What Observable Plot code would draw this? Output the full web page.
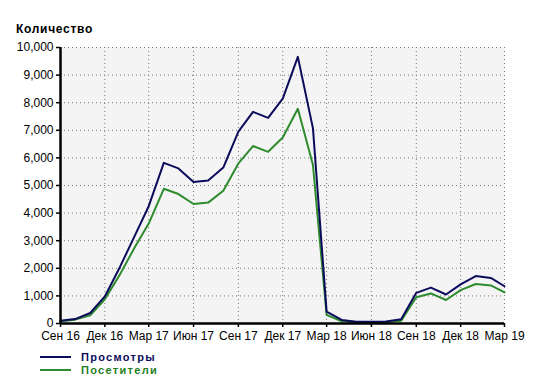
<!DOCTYPE html>
<html>
<head>
<meta charset="utf-8">
<script src="https://cdn.jsdelivr.net/npm/d3@7"></script>
<script src="https://cdn.jsdelivr.net/npm/@observablehq/plot@0.6"></script>
<style>
  body { margin: 0; background: #fff; font-family: "Liberation Sans", Arial, sans-serif; }
  #wrap { position: relative; width: 540px; height: 385px; overflow: hidden; }
  #title { position: absolute; left: 16px; top: 21px; font-weight: bold; font-size: 12px; letter-spacing: 0.7px; color: #000; line-height: 16px; }
  #chart { position: absolute; left: 0; top: 0; }
  .leg { position: absolute; left: 40px; font-weight: bold; font-size: 11px; letter-spacing: 1.3px; line-height: 12px; height: 12px; display: flex; align-items: center; }
  .leg span.sw { display: inline-block; width: 31px; height: 2px; margin-right: 10px; }
</style>
</head>
<body>
<div id="wrap">
  <div id="chart"></div>
  <div id="title">Количество</div>
  <div class="leg" style="top:351px;color:#0b0b5c"><span class="sw" style="background:#0b0b5c"></span>Просмотры</div>
  <div class="leg" style="top:364px;color:#1f7f1f"><span class="sw" style="background:#2e8b2e"></span>Посетители</div>
</div>
<script>
const months = ["2016-09","2016-10","2016-11","2016-12","2017-01","2017-02","2017-03","2017-04","2017-05","2017-06","2017-07","2017-08","2017-09","2017-10","2017-11","2017-12","2018-01","2018-02","2018-03","2018-04","2018-05","2018-06","2018-07","2018-08","2018-09","2018-10","2018-11","2018-12","2019-01","2019-02","2019-03"];
const views =    [100,160,380,980,2050,3200,4250,5820,5620,5130,5180,5650,6950,7670,7450,8150,9660,7070,430,130,60,60,70,150,1110,1300,1050,1420,1720,1650,1350];
const visitors = [80,140,300,880,1780,2780,3620,4880,4690,4330,4380,4810,5800,6430,6220,6740,7780,5740,310,80,40,40,50,100,950,1090,850,1210,1430,1380,1130];
const monthNames = ["Янв","Фев","Мар","Апр","Май","Июн","Июл","Авг","Сен","Окт","Ноя","Дек"];
const yTicks = [0,1000,2000,3000,4000,5000,6000,7000,8000,9000,10000];

const parse = d3.utcParse("%Y-%m");
const rows = months.map((m, i) => ({date: parse(m), views: views[i], visitors: visitors[i]}));
const x0 = rows[0].date, x1 = rows[rows.length - 1].date;
const xTicks = rows.map(r => r.date).filter((d, i) => i % 3 === 0);
const fmtX = d => monthNames[d.getUTCMonth()] + " " + String(d.getUTCFullYear()).slice(2);

const chart = Plot.plot({
  width: 540,
  height: 345,
  marginTop: 47,
  marginBottom: 22,
  marginLeft: 60,
  marginRight: 36,
  style: {fontFamily: "'Liberation Sans', Arial, sans-serif", fontSize: "12px", color: "#000", background: "transparent"},
  x: {type: "utc", domain: [x0, x1]},
  y: {domain: [0, 10000]},
  marks: [
    Plot.frame({fill: "#f4f4f4", stroke: "none"}),
    Plot.gridY(yTicks, {stroke: "#777", strokeOpacity: 1, strokeDasharray: "1,3"}),
    Plot.gridX(xTicks, {stroke: "#777", strokeOpacity: 1, strokeDasharray: "1,3"}),
    Plot.lineY(rows, {x: "date", y: "visitors", stroke: "#2e8b2e", strokeWidth: 2}),
    Plot.lineY(rows, {x: "date", y: "views", stroke: "#0b0b5c", strokeWidth: 2}),
    Plot.axisY(yTicks, {tickSize: 4, tickPadding: 3, tickFormat: d3.format(","), label: null, stroke: "#000", strokeWidth: 1.5}),
    Plot.axisX(xTicks, {tickSize: 4, tickPadding: 4, tickFormat: fmtX, label: null, stroke: "#000", strokeWidth: 1.5}),
    Plot.ruleX([x0], {stroke: "#000", strokeWidth: 2.5}),
    Plot.ruleY([0], {stroke: "#000", strokeWidth: 2.5})
  ]
});
document.getElementById("chart").appendChild(chart);
</script>
</body>
</html>
